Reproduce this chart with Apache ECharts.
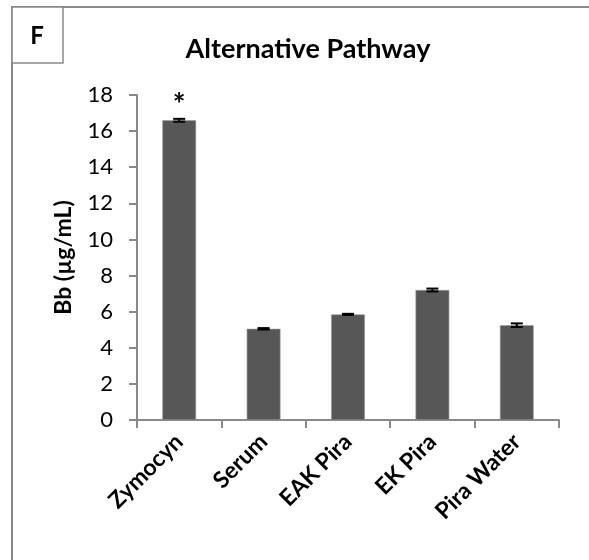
<!DOCTYPE html>
<html>
<head>
<meta charset="utf-8">
<script src="https://cdn.jsdelivr.net/npm/echarts@6/dist/echarts.min.js"></script>
<style>
  html, body { margin: 0; padding: 0; background: #fff; }
  #main { width: 589px; height: 560px; }
</style>
</head>
<body>
<div id="main"></div>
<script>
var groups = ['Zymocyn', 'Serum', 'EAK Pira', 'EK Pira', 'Pira Water'];
var bbValues = [16.6, 5.05, 5.85, 7.2, 5.25];
var bbErrors = [0.08, 0.04, 0.03, 0.08, 0.1];
var marks = ['*', '', '', '', ''];
var yTicks = [0, 18, 2];

var fontMain = 'Lato, "Open Sans", sans-serif';
var axisGrey = '#898989';

var barData = []
for (var i = 0; i < bbValues.length; i++) {
    barData.push({
        value: bbValues[i],
        label: { show: marks[i] != '', formatter: marks[i] }
    })
}
var errData = []
for (var i = 0; i < bbValues.length; i++) {
    errData.push([i, bbValues[i] - bbErrors[i], bbValues[i] + bbErrors[i]])
}

var option = {
    animation: false,
    title: {
        text: 'Alternative Pathway',
        left: 303,
        top: 31,
        textAlign: 'center',
        textStyle: { fontFamily: fontMain, fontWeight: 'bold', fontSize: 27, color: '#000' }
    },
    grid: { left: 137, right: 30, top: 95, bottom: 140 },
    xAxis: {
        type: 'category',
        data: groups,
        axisLine: { lineStyle: { color: axisGrey, width: 2 } },
        axisTick: { show: true, length: 8, lineStyle: { color: axisGrey, width: 2 } },
        axisLabel: {
            interval: 0,
            rotate: 45,
            margin: 18,
            color: '#000',
            fontFamily: fontMain,
            fontWeight: 'bold',
            fontSize: 23
        }
    },
    yAxis: {
        type: 'value',
        min: yTicks[0],
        max: yTicks[1],
        interval: yTicks[2],
        name: 'Bb (µg/mL)',
        nameLocation: 'middle',
        nameGap: 62,
        nameTextStyle: { fontFamily: fontMain, fontWeight: 'bold', fontSize: 23, color: '#000' },
        axisLine: { show: true, lineStyle: { color: axisGrey, width: 2 } },
        axisTick: { show: true, length: 8, lineStyle: { color: axisGrey, width: 2 } },
        splitLine: { show: false },
        axisLabel: { margin: 24, color: '#000', fontFamily: fontMain, fontSize: 22 }
    },
    series: [
        {
            type: 'bar',
            data: barData,
            barWidth: '40%',
            itemStyle: { color: '#575757', borderColor: '#9a9a9a', borderWidth: 0.6 },
            label: {
                position: 'top',
                distance: 0,
                color: '#000',
                fontFamily: fontMain,
                fontWeight: 'bold',
                fontSize: 30
            }
        },
        {
            type: 'custom',
            data: errData,
            z: 10,
            renderItem: function (params, api) {
                var lo = api.coord([api.value(0), api.value(1)]);
                var hi = api.coord([api.value(0), api.value(2)]);
                var w = 6;
                var st = { stroke: '#000', lineWidth: 2 };
                return {
                    type: 'group',
                    children: [
                        { type: 'line', shape: { x1: lo[0], y1: lo[1], x2: hi[0], y2: hi[1] }, style: st },
                        { type: 'line', shape: { x1: lo[0] - w, y1: lo[1], x2: lo[0] + w, y2: lo[1] }, style: st },
                        { type: 'line', shape: { x1: hi[0] - w, y1: hi[1], x2: hi[0] + w, y2: hi[1] }, style: st }
                    ]
                };
            }
        }
    ],
    graphic: [
        {
            type: 'polyline',
            shape: { points: [[12, 560], [12, 7], [589, 7]] },
            style: { stroke: axisGrey, lineWidth: 2, fill: null }
        },
        {
            type: 'rect',
            shape: { x: 12, y: 7, width: 51, height: 56 },
            style: { stroke: axisGrey, lineWidth: 1.5, fill: '#fff' }
        },
        {
            type: 'text',
            x: 37,
            y: 36,
            style: {
                text: 'F',
                fontFamily: fontMain,
                fontWeight: 'bold',
                fontSize: 24,
                fill: '#000',
                align: 'center',
                verticalAlign: 'middle'
            }
        }
    ]
};

var chart = echarts.init(document.getElementById('main'));
chart.setOption(option);
</script>
</body>
</html>
